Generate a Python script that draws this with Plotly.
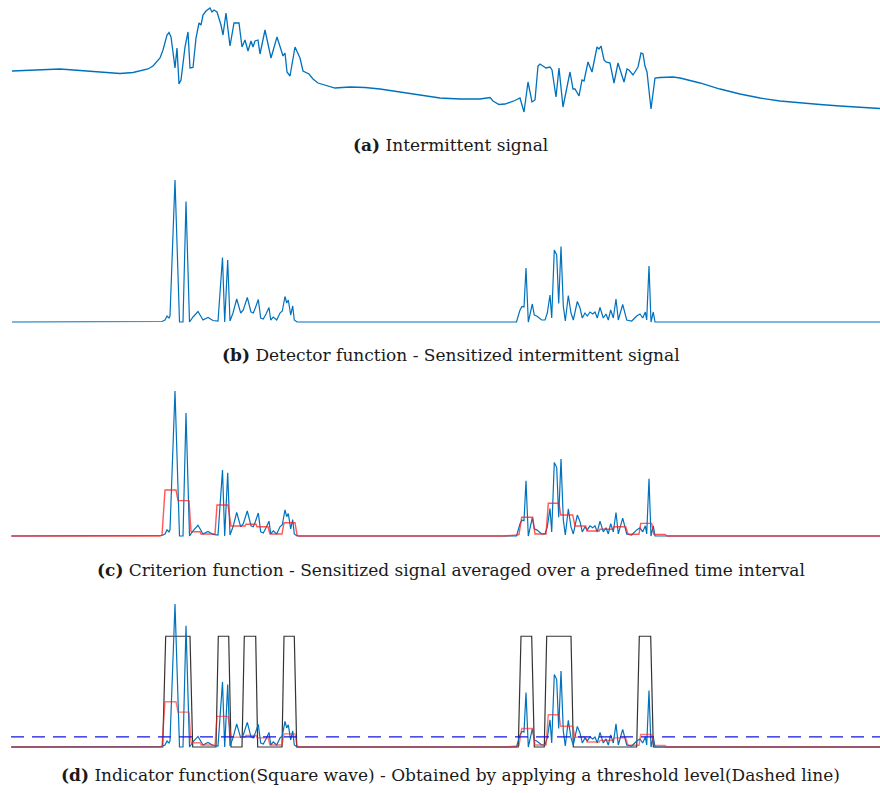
import plotly.graph_objects as go

# ---------------------------------------------------------------------------
# Digitised data (time in samples, amplitudes in arbitrary units)
# ---------------------------------------------------------------------------

# (a) intermittent signal
signal_t = [12, 30, 50, 60, 80, 100, 120, 133, 148, 153, 160, 163, 167, 169, 171, 174, 175, 177,
            179, 181, 185, 188, 190, 193, 196, 199, 201, 203, 206, 210, 212, 214, 217, 221, 223,
            226, 230, 234, 239, 242, 245, 248, 251, 253, 255, 258, 260, 265, 271, 277, 283, 285,
            287, 290, 292, 295, 300, 303, 309, 313, 318, 330, 335, 350, 365, 380, 400, 420, 440,
            460, 480, 490, 493, 499, 505, 515, 520, 524, 528, 532, 535, 538, 540, 546, 550, 552,
            556, 559, 563, 570, 573, 575, 579, 582, 584, 588, 592, 597, 599, 601, 604, 606, 610,
            614, 618, 624, 627, 629, 633, 638, 641, 643, 645, 647, 651, 655, 660, 673, 680, 700,
            720, 740, 760, 780, 800, 820, 840, 860, 880]
signal_u = [44, 44.5, 45.5, 46, 44.5, 43, 41.5, 42.5, 46, 49, 57, 65, 80, 82.5, 78, 55, 47, 67,
            31, 35, 68, 83, 47, 47.5, 77, 92, 90, 100, 104, 107, 103, 105, 103, 90, 80,
            102, 69, 92, 92, 68, 75, 64, 74, 68, 74, 75, 61, 85, 57, 78, 59, 62,
            43, 39, 51, 68, 57, 44, 41, 36, 32, 29, 27, 28, 27.5, 26, 23, 20, 17,
            16, 16, 17.5, 14, 10.5, 11, 14.5, 17, 3, 33, 13, 15, 49, 51, 47, 48, 45,
            18, 47, 8, 43, 26, 26, 19, 35, 34, 53, 43, 68, 66, 69, 55, 53, 52,
            32, 52, 33, 46, 45, 40, 48, 62, 61, 49, 43, 6, 37, 37.5, 38, 37, 32,
            26, 21, 17, 14, 12, 10.5, 9, 7.5, 6.5]

# (b) detector function (sensitised signal)
detector_t = [12, 158, 162, 165, 167, 169, 170, 175, 179.5, 183, 186, 189.5, 193, 198, 203, 208,
              213, 218, 220, 222.5, 224.7, 227.7, 230, 233, 236.7, 240.7, 243.3, 247.3, 251,
              253.3, 255.3, 258.3, 260.7, 263.3, 266, 269, 270.7, 273.3, 276.7, 280, 282.3, 285,
              286.7, 288.3, 290.7, 292.7, 294.3, 297, 516.5, 520, 522, 524, 526, 528.3, 532.3,
              534.3, 536.7, 541.7, 545, 547.3, 550, 551.7, 554.3, 556.7, 558.7, 561, 563.3,
              565.3, 568.3, 571, 573.3, 577.3, 580, 582.3, 585, 587.3, 590, 592.7, 595, 597.3,
              600, 603.3, 606, 608.3, 610.7, 613.3, 616, 618.3, 622.7, 626.7, 631.7, 636.7, 640,
              642.7, 645.3, 646.7, 649, 651, 653.3, 655, 880]
detector_v = [0, 0, 0.5, 2, 6, 4, 6, 142, 0, 0, 120.5, 0, 5, 10.5, 2, 4.5,
              1.5, 1, 32, 64.5, 0, 62, 1, 9, 23, 9, 12, 24.5, 10,
              9, 14, 22.5, 4, 3, 8, 14.5, 2, 5, 2, 9, 11, 25.5,
              19, 22, 7, 16, 2, 0, 0, 12, 15.5, 15, 54, 0, 18,
              7, 6, 2, 2, 9, 27, 4, 72, 67, 18.5, 75.5, 16,
              1, 26.5, 9, 2, 20.5, 14, 4, 9, 6, 10, 8, 10, 4,
              14.5, 4, 8, 2, 12, 4, 23, 2, 17.5, 2, 1, 6, 8,
              4, 10, 2, 56, 0, 10, 0, 0]

# (c) criterion function: detector averaged over a fixed window
criterion_t = [11, 160, 162, 165, 176, 178, 189, 191, 200, 201, 215, 217, 228, 231, 245, 246,
               256, 257, 268, 270, 282, 284, 295, 297, 299, 505, 517, 519, 521.7, 532.7, 535,
               546, 548.3, 559, 560.7, 572.7, 575, 585.7, 587, 599.3, 600, 613.3, 614, 625.7,
               628, 639, 640.7, 651.7, 654, 665, 667, 880]
criterion_v = [0, 0, 1, 45, 45, 34.6, 34.6, 4.2, 4.2, 2, 2, 30.4, 30.4, 9.8, 9.8, 11.5,
               11.5, 9.1, 9.1, 2, 2, 13, 13, 1, 0, 0, 1, 1.5, 18.3, 18.3, 2,
               2, 32, 32, 20.6, 20.6, 9.8, 9.8, 4.9, 4.9, 6.6, 6.6, 9.1, 9.1,
               1.7, 1.7, 12.4, 12.4, 1.5, 1.5, 0, 0]

# (d) indicator function (1 where the criterion exceeds the threshold)
indicator_t = [11, 162.7, 165.7, 190, 192.7, 216, 218.3, 228.7, 231, 242, 244.3, 255.7, 257.7,
               282, 284, 294.3, 296.7, 518.3, 521, 531.7, 534.3, 544.3, 546.7, 571, 573.3,
               636.7, 639.3, 650.7, 653.3, 880]
indicator_on = [0, 0, 1, 1, 0, 0, 1, 1, 0, 0, 1, 1, 0,
                0, 1, 1, 0, 0, 1, 1, 0, 0, 1, 1, 0,
                0, 1, 1, 0, 0]
indicator_level = 110
threshold = 10

captions = [
    "<b>(a)</b> Intermittent signal",
    "<b>(b)</b> Detector function - Sensitized intermittent signal",
    "<b>(c)</b> Criterion function - Sensitized signal averaged over a predefined time interval",
    "<b>(d)</b> Indicator function(Square wave) - Obtained by applying a threshold level(Dashed line)",
]

# ---------------------------------------------------------------------------
# Layout helpers
# ---------------------------------------------------------------------------
W, H = 880, 793
BLUE = "#0072BD"
RED = "rgba(255,30,30,0.75)"


def ydomain(base_px, px_per_unit, lo, hi):
    """Paper domain for an axis whose zero sits at base_px (from top)."""
    bottom = base_px - lo * px_per_unit
    top = base_px - hi * px_per_unit
    return [1 - bottom / H, 1 - top / H]


panels = [
    # baseline px, px per unit, value range
    (115, 1.0, (0, 112)),
    (322, 1.0, (-4, 146)),
    (536, 1.021, (-4, 146)),
    (747, 1.007, (-4, 146)),
]
caption_y = [145, 355, 570, 775]

fig = go.Figure()

line_w = 1.2
fig.add_trace(go.Scatter(x=signal_t, y=signal_u, mode="lines",
                         line=dict(color=BLUE, width=1.3), xaxis="x", yaxis="y"))

fig.add_trace(go.Scatter(x=detector_t, y=detector_v, mode="lines",
                         line=dict(color=BLUE, width=line_w), xaxis="x2", yaxis="y2"))

fig.add_trace(go.Scatter(x=detector_t, y=detector_v, mode="lines",
                         line=dict(color=BLUE, width=line_w), xaxis="x3", yaxis="y3"))
fig.add_trace(go.Scatter(x=criterion_t, y=criterion_v, mode="lines",
                         line=dict(color=RED, width=1.4), xaxis="x3", yaxis="y3"))

fig.add_trace(go.Scatter(x=indicator_t, y=[v * indicator_level for v in indicator_on], mode="lines",
                         line=dict(color="rgba(0,0,0,0.8)", width=1.2), xaxis="x4", yaxis="y4"))
fig.add_trace(go.Scatter(x=detector_t, y=detector_v, mode="lines",
                         line=dict(color=BLUE, width=line_w), xaxis="x4", yaxis="y4"))
fig.add_trace(go.Scatter(x=criterion_t, y=criterion_v, mode="lines",
                         line=dict(color="rgba(255,30,30,0.6)", width=1.4), xaxis="x4", yaxis="y4"))
fig.add_trace(go.Scatter(x=[11, 880], y=[threshold, threshold], mode="lines",
                         line=dict(color="rgb(20,20,225)", width=1.2, dash="13px,8px"),
                         xaxis="x4", yaxis="y4"))

layout = dict(
    width=W, height=H,
    margin=dict(l=0, r=0, t=0, b=0),
    paper_bgcolor="white", plot_bgcolor="rgba(0,0,0,0)",
    showlegend=False,
)
for i, (base, k, (lo, hi)) in enumerate(panels):
    sfx = "" if i == 0 else str(i + 1)
    layout["xaxis" + sfx] = dict(domain=[11 / W, 1], range=[11, 880], visible=False,
                                 anchor="y" + sfx)
    layout["yaxis" + sfx] = dict(domain=ydomain(base, k, lo, hi), range=[lo, hi],
                                 visible=False, anchor="x" + sfx)
fig.update_layout(**layout)

for text, cy in zip(captions, caption_y):
    fig.add_annotation(text=text, x=451 / W, y=1 - cy / H, xref="paper", yref="paper",
                       showarrow=False, xanchor="center", yanchor="middle",
                       font=dict(family="DejaVu Serif", size=17, color="#1a1a1a"))

fig.write_html("out.html")
